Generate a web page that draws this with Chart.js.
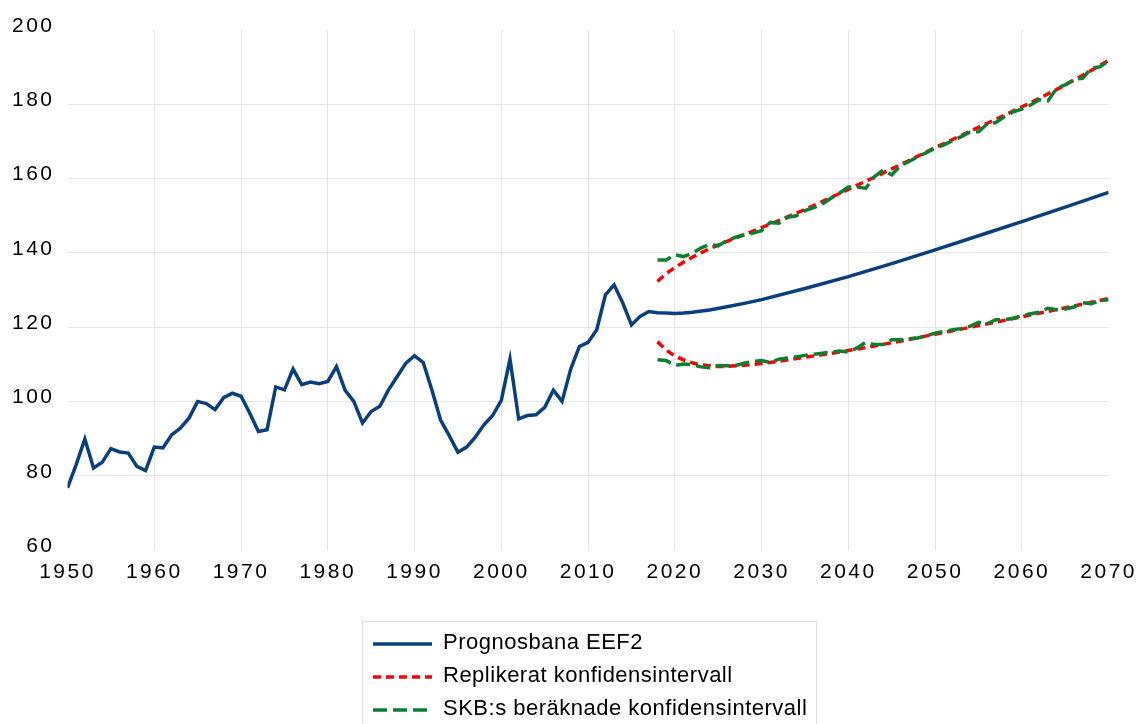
<!DOCTYPE html>
<html lang="sv">
<head>
<meta charset="UTF-8">
<title>Prognosbana EEF2</title>
<script src="https://cdn.jsdelivr.net/npm/chart.js@4.4.1/dist/chart.umd.min.js"></script>
<style>
  html, body { margin: 0; padding: 0; background: #fff; }
</style>
</head>
<body>
<canvas id="chart" width="1142" height="724"></canvas>
<script>
  // historiskt utfall + prognosbana
  const histYears = [1950, 1951, 1952, 1953, 1954, 1955, 1956, 1957, 1958, 1959,
    1960, 1961, 1962, 1963, 1964, 1965, 1966, 1967, 1968, 1969,
    1970, 1971, 1972, 1973, 1974, 1975, 1976, 1977, 1978, 1979,
    1980, 1981, 1982, 1983, 1984, 1985, 1986, 1987, 1988, 1989,
    1990, 1991, 1992, 1993, 1994, 1995, 1996, 1997, 1998, 1999,
    2000, 2001, 2002, 2003, 2004, 2005, 2006, 2007, 2008, 2009,
    2010, 2011, 2012, 2013, 2014, 2015, 2016, 2017];
  const histValues = [76.7, 83.0, 89.9, 82.1, 83.6, 87.3, 86.4, 86.1, 82.5, 81.4,
    87.7, 87.5, 91.0, 92.8, 95.5, 100.0, 99.4, 97.8, 101.0, 102.2,
    101.4, 96.9, 91.9, 92.4, 103.9, 103.1, 108.7, 104.5, 105.2, 104.8,
    105.4, 109.4, 103.0, 100.0, 94.2, 97.3, 98.7, 103.1, 106.7, 110.3,
    112.3, 110.5, 103.1, 95.0, 90.8, 86.3, 87.7, 90.4, 93.7, 96.2,
    100.3, 111.4, 95.3, 96.2, 96.4, 98.4, 103.0, 100.0, 108.7, 114.8,
    115.9, 119.3, 128.7, 131.4, 126.5, 120.6, 122.9, 124.2];
  const prognosYears = [2018, 2019, 2020, 2021, 2022, 2024, 2026, 2028, 2030, 2035,
    2040, 2045, 2050, 2055, 2060, 2065, 2070];
  const prognosValues = [123.9, 123.8, 123.7, 123.8, 124.0, 124.6, 125.5, 126.4, 127.4, 130.4,
    133.6, 137.1, 140.8, 144.6, 148.4, 152.3, 156.3];

  // replikerat konfidensintervall
  const replYears = [2018, 2019, 2020, 2021, 2022, 2023, 2024, 2025, 2030, 2035,
    2040, 2045, 2050, 2055, 2060, 2065, 2070];
  const replUpper = [132.3, 134.4, 136.0, 137.5, 138.8, 140.0, 141.1, 142.1, 146.8, 151.7,
    157.1, 162.6, 168.3, 173.8, 179.3, 185.2, 191.8];
  const replLower = [116.1, 113.9, 112.3, 111.2, 110.4, 109.9, 109.6, 109.4, 110.2, 111.9,
    113.7, 115.8, 118.1, 120.4, 122.8, 125.2, 127.7];

  // SKB:s konfidensintervall
  const skbYears = [2018, 2019, 2020, 2021, 2022, 2023, 2024, 2025, 2026, 2027,
    2028, 2029, 2030, 2031, 2032, 2033, 2034, 2035, 2036, 2037,
    2038, 2039, 2040, 2041, 2042, 2043, 2044, 2045, 2046, 2047,
    2048, 2049, 2050, 2051, 2052, 2053, 2054, 2055, 2056, 2057,
    2058, 2059, 2060, 2061, 2062, 2063, 2064, 2065, 2066, 2067,
    2068, 2069, 2070];
  const skbUpper = [138.1, 138.1, 139.5, 139.0, 139.9, 141.3, 142.3, 141.9, 143.3, 144.2,
    144.8, 145.3, 146.0, 148.2, 148.0, 149.6, 150.0, 151.4, 152.2, 153.2,
    154.7, 156.1, 157.7, 157.7, 157.4, 160.5, 162.3, 161.0, 163.5, 164.6,
    165.9, 167.0, 168.2, 169.1, 170.2, 171.3, 172.5, 172.6, 174.7, 175.1,
    176.7, 178.0, 178.7, 179.8, 181.2, 180.9, 184.3, 185.2, 186.7, 187.0,
    189.7, 190.1, 191.7];
  const skbLower = [111.2, 111.0, 109.7, 110.1, 109.9, 109.3, 109.1, 109.7, 109.6, 109.7,
    110.3, 110.8, 111.0, 110.5, 111.4, 111.7, 112.0, 112.4, 112.7, 113.0,
    113.3, 113.6, 113.3, 114.4, 115.9, 115.3, 115.3, 116.6, 116.6, 116.9,
    117.1, 117.7, 118.4, 118.8, 119.3, 119.6, 120.2, 121.3, 120.9, 122.0,
    122.0, 122.4, 123.1, 123.6, 124.0, 125.1, 124.7, 124.9, 125.4, 126.6,
    126.3, 127.2, 127.4];

  const yTicks = [60, 80, 100, 120, 140, 160, 180, 200];
  const xTicks = [1950, 1960, 1970, 1980, 1990, 2000, 2010, 2020, 2030, 2040, 2050, 2060, 2070];

  const legendLabels = ['Prognosbana EEF2', 'Replikerat konfidensintervall', 'SKB:s beräknade konfidensintervall'];

  const BLUE = '#0a3f7f', RED = '#ff0000', GREEN = '#0a7f2e';
  const FONT = '"Liberation Sans", Arial, Helvetica, sans-serif';

  function pts(xs, ys) {
    return xs.map((x, i) => ({ x: x, y: ys[i] }));
  }

  // letter spacing like the original (set every draw, canvas resets state)
  const spacing = {
    id: 'spacing',
    beforeDraw(chart) { chart.ctx.letterSpacing = '2.5px'; }
  };

  // legend box under the chart, one row per series
  const boxLegend = {
    id: 'boxLegend',
    afterDraw(chart) {
      const ctx = chart.ctx;
      const rows = [
        { color: BLUE, dash: [] },
        { color: RED, dash: [8, 5] },
        { color: GREEN, dash: [14, 6] }
      ];
      ctx.save();
      ctx.letterSpacing = '0.5px';
      ctx.strokeStyle = '#dcdcdc';
      ctx.lineWidth = 1;
      ctx.strokeRect(362.5, 621.5, 454, 130);
      rows.forEach((r, i) => {
        const y = 644 + i * 33;
        ctx.beginPath();
        ctx.setLineDash(r.dash);
        ctx.strokeStyle = r.color;
        ctx.lineWidth = 3.5;
        ctx.moveTo(373, y);
        ctx.lineTo(432, y);
        ctx.stroke();
        ctx.setLineDash([]);
        ctx.fillStyle = '#000';
        ctx.font = '22px ' + FONT;
        ctx.textAlign = 'left';
        ctx.textBaseline = 'middle';
        ctx.fillText(legendLabels[i], 443, y - 1);
      });
      ctx.restore();
    }
  };

  const gridColor = c => (c.tick && (c.tick.value === 60 || c.tick.value === 200 ||
    c.tick.value === 1950 || c.tick.value === 2070)) ? 'rgba(0,0,0,0)' : '#e6e6e6';

  new Chart(document.getElementById('chart'), {
    type: 'line',
    data: {
      datasets: [
        {
          label: legendLabels[0],
          data: pts(histYears.concat(prognosYears), histValues.concat(prognosValues)),
          borderColor: BLUE,
          borderWidth: 3.5,
          pointRadius: 0,
          tension: 0
        },
        {
          label: legendLabels[2],
          data: pts(skbYears, skbUpper),
          borderColor: GREEN,
          borderWidth: 3.5,
          borderDash: [14, 6],
          pointRadius: 0,
          tension: 0
        },
        {
          label: legendLabels[2],
          data: pts(skbYears, skbLower),
          borderColor: GREEN,
          borderWidth: 3.5,
          borderDash: [14, 6],
          pointRadius: 0,
          tension: 0
        },
        {
          label: legendLabels[1],
          data: pts(replYears, replUpper),
          borderColor: RED,
          borderWidth: 3.5,
          borderDash: [8, 5],
          pointRadius: 0,
          cubicInterpolationMode: 'monotone'
        },
        {
          label: legendLabels[1],
          data: pts(replYears, replLower),
          borderColor: RED,
          borderWidth: 3.5,
          borderDash: [8, 5],
          pointRadius: 0,
          cubicInterpolationMode: 'monotone'
        }
      ]
    },
    options: {
      responsive: false,
      animation: false,
      layout: { padding: { top: 30, right: 32, left: 0, bottom: 0 } },
      plugins: {
        legend: { display: false },
        tooltip: { enabled: false }
      },
      scales: {
        x: {
          type: 'linear',
          min: xTicks[0],
          max: xTicks[xTicks.length - 1],
          afterBuildTicks: s => { s.ticks = xTicks.map(v => ({ value: v })); },
          afterFit: s => { s.height = 174; },
          grid: { color: gridColor, lineWidth: 1, drawTicks: false },
          border: { display: false },
          ticks: {
            callback: v => String(v),
            color: '#000',
            padding: 10,
            maxRotation: 0,
            font: { family: FONT, size: 21 }
          }
        },
        y: {
          min: yTicks[0],
          max: yTicks[yTicks.length - 1],
          afterBuildTicks: s => { s.ticks = yTicks.map(v => ({ value: v })); },
          afterFit: s => { s.width = 67.5; },
          grid: { color: gridColor, lineWidth: 1, drawTicks: false },
          border: { display: false },
          ticks: {
            color: '#000',
            padding: 13,
            labelOffset: -4,
            font: { family: FONT, size: 21 }
          }
        }
      }
    },
    plugins: [spacing, boxLegend]
  });
</script>
</body>
</html>
